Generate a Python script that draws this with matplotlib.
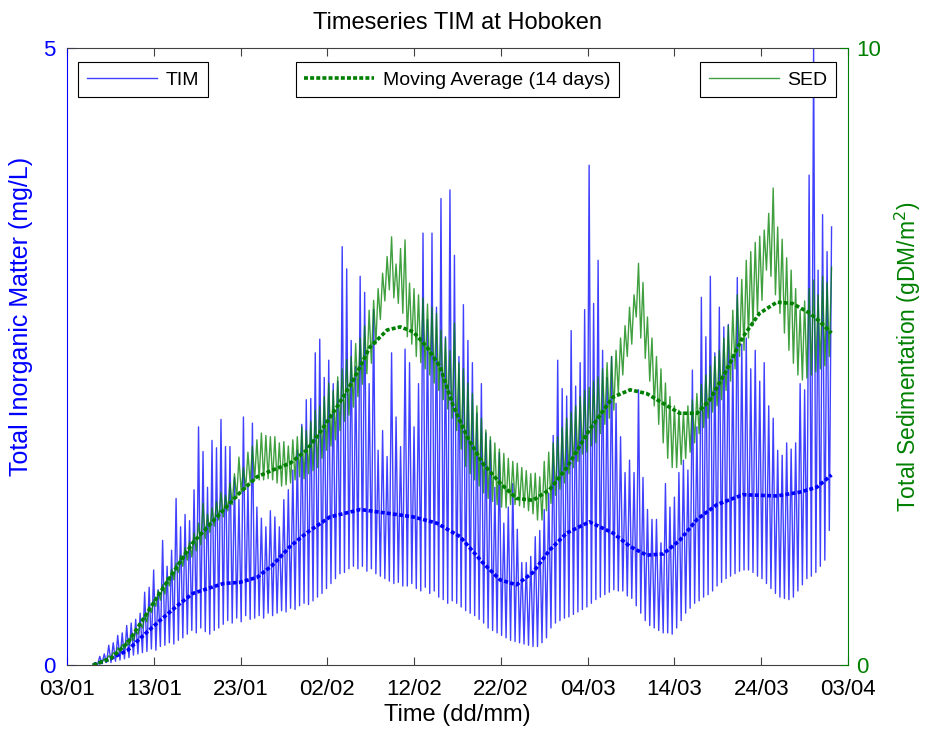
import matplotlib
matplotlib.use('Agg')
import matplotlib.pyplot as plt
import matplotlib.dates as mdates
import pandas as pd

plt.rcParams['font.family'] = ['Liberation Sans', 'DejaVu Sans']

# one value per tide (M2, 12h25)
tide_start = '2013-01-06 00:00'
tide_step = '745min'

tim_peak = [0.02, 0.07, 0.09, 0.16, 0.18, 0.24, 0.26, 0.32, 0.34, 0.37,
            0.42, 0.59, 0.63, 0.77, 0.61, 1.01, 0.8, 0.93, 1.35, 1.12,
            1.22, 1.17, 1.42, 1.93, 1.73, 1.44, 1.82, 1.76, 1.99, 1.77,
            1.77, 1.52, 1.34, 2.01, 1.47, 1.96, 1.28, 1.19, 1.12, 1.25,
            1.2, 1.12, 1.34, 1.42, 1.58, 1.74, 1.95, 2.15, 2.16, 2.53,
            2.64, 2.33, 2.47, 2.28, 2.3, 3.39, 3.21, 2.63, 2.42, 3.15,
            3.02, 2.28, 2.88, 1.74, 1.9, 1.69, 2.53, 2.01, 1.77, 2.56,
            2.45, 1.93, 2.28, 3.5, 2.8, 3.5, 2.9, 3.78, 2.66, 3.85,
            3.32, 2.5, 2.92, 2.63, 2.45, 2.04, 2.28, 1.88, 1.82, 1.44,
            1.72, 1.15, 1.28, 1.47, 1.1, 0.83, 0.83, 0.88, 1.04, 1.09,
            1.26, 1.39, 1.86, 2.47, 2.24, 2.18, 2.71, 2.26, 2.45, 2.88,
            4.05, 2.93, 3.28, 2.55, 2.33, 2.5, 2.12, 1.85, 1.56, 1.66,
            1.56, 2.23, 1.52, 1.26, 1.18, 1.18, 0.99, 1.47, 1.28, 1.36,
            1.56, 1.66, 1.58, 2.39, 1.93, 2.98, 2.66, 3.15, 2.53, 2.9,
            2.74, 2.76, 2.5, 3.14, 2.6, 2.65, 2.4, 2.55, 2.3, 2.45,
            2.1, 2.0, 1.74, 1.7, 1.8, 1.75, 1.8, 2.28, 2.23, 3.97,
            5.0, 3.2, 3.65, 3.35, 3.55]

tim_low = [0.0, 0.0, 0.01, 0.02, 0.02, 0.03, 0.04, 0.05, 0.06, 0.08,
           0.09, 0.1, 0.11, 0.13, 0.12, 0.15, 0.16, 0.18, 0.17, 0.2,
           0.22, 0.25, 0.28, 0.26, 0.3, 0.27, 0.25, 0.28, 0.3, 0.33,
           0.36, 0.34, 0.38, 0.35, 0.4, 0.37, 0.38, 0.4, 0.38, 0.42,
           0.4, 0.42, 0.44, 0.43, 0.46, 0.45, 0.48, 0.5, 0.49, 0.52,
           0.55, 0.58, 0.62, 0.66, 0.7, 0.74, 0.75, 0.78, 0.8, 0.78,
           0.8, 0.76, 0.78, 0.74, 0.72, 0.7, 0.68, 0.66, 0.67, 0.64,
           0.64, 0.66, 0.62, 0.6, 0.63, 0.58, 0.6, 0.55, 0.53, 0.5,
           0.52, 0.5, 0.47, 0.44, 0.42, 0.4, 0.37, 0.34, 0.3, 0.28,
           0.26, 0.24, 0.22, 0.2, 0.19, 0.18, 0.17, 0.16, 0.15, 0.15,
           0.18, 0.22, 0.3, 0.34, 0.36, 0.38, 0.39, 0.41, 0.43, 0.45,
           0.47, 0.5, 0.53, 0.55, 0.57, 0.59, 0.61, 0.6, 0.6, 0.56,
           0.54, 0.48, 0.42, 0.36, 0.32, 0.3, 0.28, 0.26, 0.26, 0.25,
           0.3, 0.36, 0.42, 0.46, 0.5, 0.52, 0.55, 0.57, 0.6, 0.64,
           0.67, 0.7, 0.72, 0.74, 0.76, 0.77, 0.77, 0.75, 0.72, 0.7,
           0.66, 0.62, 0.58, 0.55, 0.54, 0.53, 0.55, 0.6, 0.65, 0.7,
           0.72, 0.75, 0.8, 0.85, 1.09]

sed_high = [0.0, 0.05, 0.1, 0.15, 0.2, 0.28, 0.33, 0.4, 0.47, 0.55,
            0.68, 0.8, 0.95, 1.05, 1.2, 1.3, 1.42, 1.55, 1.65, 1.78,
            1.9, 2.0, 2.14, 2.3, 2.62, 2.45, 2.55, 2.65, 2.8, 2.75,
            2.95, 3.1, 3.37, 3.2, 3.45, 3.55, 3.65, 3.76, 3.72, 3.7,
            3.7, 3.6, 3.62, 3.55, 3.65, 3.7, 3.86, 3.8, 3.95, 4.13,
            4.2, 4.35, 4.57, 4.45, 4.67, 4.8, 4.95, 5.0, 5.21, 5.3,
            5.5, 5.75, 5.91, 6.1, 6.35, 6.62, 6.94, 6.5, 6.75, 6.89,
            6.19, 6.1, 6.0, 5.95, 5.85, 5.8, 5.7, 5.43, 5.3, 5.1,
            5.54, 4.9, 4.8, 4.57, 4.4, 4.2, 4.0, 3.81, 3.7, 3.6,
            3.5, 3.43, 3.35, 3.3, 3.27, 3.2, 3.15, 3.1, 3.11, 3.05,
            3.3, 3.45, 3.6, 3.7, 3.85, 4.0, 4.1, 4.2, 4.35, 4.45,
            4.5, 4.6, 4.67, 4.8, 4.9, 5.0, 5.1, 5.3, 5.5, 5.8,
            6.0, 6.51, 6.2, 5.64, 5.3, 5.0, 4.8, 4.57, 4.35, 4.2,
            4.13, 4.1, 4.2, 4.3, 4.4, 4.55, 4.7, 4.85, 5.0, 5.1,
            5.3, 5.5, 5.75, 6.0, 6.25, 6.56, 6.7, 6.85, 6.95, 7.05,
            7.32, 7.73, 7.1, 6.9, 6.6, 6.4, 6.1, 5.75, 5.9, 6.1,
            6.24, 6.0, 6.3, 6.2, 6.45]

sed_low = [0.0, 0.02, 0.05, 0.08, 0.12, 0.17, 0.22, 0.27, 0.33, 0.4,
           0.5, 0.6, 0.7, 0.85, 0.95, 1.05, 1.15, 1.28, 1.38, 1.5,
           1.6, 1.7, 1.75, 1.85, 1.95, 2.05, 2.15, 2.25, 2.35, 2.4,
           2.5, 2.6, 2.7, 2.8, 2.85, 2.95, 3.0, 3.0, 3.0, 3.02,
           3.0, 2.95, 2.9, 2.92, 2.95, 3.0, 3.05, 3.02, 3.1, 3.15,
           3.2, 3.35, 3.48, 3.55, 3.65, 3.8, 3.95, 4.05, 4.18, 4.35,
           4.55, 4.72, 4.89, 5.2, 5.6, 5.9, 6.08, 5.95, 5.86, 5.7,
           5.32, 5.2, 5.0, 4.9, 4.8, 4.7, 4.57, 4.45, 4.3, 4.15,
           4.0, 3.8, 3.5, 3.22, 3.1, 3.0, 2.9, 2.79, 2.7, 2.65,
           2.6, 2.56, 2.55, 2.6, 2.6, 2.58, 2.55, 2.5, 2.45, 2.35,
           2.35, 2.5, 2.62, 2.75, 2.85, 2.95, 3.1, 3.2, 3.3, 3.42,
           3.45, 3.55, 3.6, 3.75, 3.9, 4.0, 4.13, 4.4, 4.7, 5.0,
           5.2, 5.64, 5.3, 4.97, 4.6, 4.2, 3.9, 3.6, 3.35, 3.2,
           3.2, 3.25, 3.35, 3.45, 3.6, 3.75, 3.85, 4.0, 4.1, 4.2,
           4.3, 4.45, 4.6, 4.8, 5.0, 5.1, 5.3, 5.5, 5.7, 5.91,
           6.4, 6.3, 6.0, 5.7, 5.38, 5.1, 4.89, 4.7, 4.62, 4.65,
           4.7, 4.75, 4.8, 4.85, 5.0]

# 14 day moving averages, days after 03/01
ma_tim_day = [3, 5, 7, 8.8, 10.7, 12.7, 14.5, 18, 19.9, 21.9, 23.7, 25.7, 27.6,
              30.3, 33.8, 36.9, 39.9, 42.6, 45.3, 47.9, 49.9, 51.8, 53.7, 55.6,
              57.6, 60.2, 62.9, 64.9, 66.8, 68.7, 70.6, 72.6, 74.9, 77.9, 81.8,
              84.4, 86.4, 88.1]
ma_tim = [0.0, 0.05, 0.12, 0.24, 0.36, 0.48, 0.58, 0.66, 0.67, 0.71, 0.81, 0.96,
          1.07, 1.2, 1.26, 1.23, 1.2, 1.15, 1.04, 0.83, 0.69, 0.65, 0.75, 0.93,
          1.07, 1.16, 1.07, 0.96, 0.89, 0.9, 1.01, 1.18, 1.3, 1.38, 1.37, 1.4,
          1.44, 1.54]

ma_sed_day = [3, 5, 7, 8.8, 10.7, 12.7, 14.5, 18, 19.9, 21.9, 23.7, 25.7, 27.6,
              29.1, 31.1, 33.0, 34.9, 36.9, 38.4, 39.9, 41.5, 43.0, 44.5, 46.1,
              47.9, 49.9, 51.8, 53.7, 55.6, 57.6, 60.2, 62.9, 64.9, 66.8, 68.7,
              70.6, 72.6, 74.1, 76.0, 77.9, 79.8, 81.8, 83.6, 85.6, 86.8, 88.1]
ma_sed = [0.0, 0.1, 0.36, 0.75, 1.17, 1.6, 1.98, 2.51, 2.79, 3.05, 3.16, 3.27,
          3.48, 3.76, 4.18, 4.62, 5.15, 5.43, 5.48, 5.4, 5.15, 4.83, 4.2, 3.7,
          3.27, 2.95, 2.7, 2.67, 2.84, 3.2, 3.81, 4.34, 4.46, 4.4, 4.24, 4.08,
          4.08, 4.3, 4.78, 5.32, 5.7, 5.88, 5.86, 5.7, 5.56, 5.38]

t0 = pd.Timestamp('2013-01-03')
tides = pd.date_range(tide_start, periods=len(tim_peak), freq=tide_step)
half = pd.Timedelta('372min')

# low, then peak, for every tide
x_tide = []
y_tim = []
y_sed = []
for i, t in enumerate(tides):
    x_tide += [t, t + half]
    y_tim += [tim_low[i], tim_peak[i]]
    y_sed += [sed_low[i], sed_high[i]]

ma_tim_x = t0 + pd.to_timedelta(ma_tim_day, unit='D')
ma_sed_x = t0 + pd.to_timedelta(ma_sed_day, unit='D')

blue = '#0000ff'
green = '#008000'
dash = (0, (1.1, 0.6))

fig = plt.figure(figsize=(9.28, 7.30), dpi=100)
ax = fig.add_axes([67 / 928, 65 / 730, 781 / 928, 617 / 730])
ax2 = ax.twinx()

tim_line, = ax.plot(x_tide, y_tim, color=blue, lw=1.0, alpha=0.75, label='TIM')
ax.plot(ma_tim_x, ma_tim, color=blue, lw=2.6, ls=dash)
sed_line, = ax2.plot(x_tide, y_sed, color=green, lw=1.0, alpha=0.75, label='SED')
ma_line, = ax2.plot(ma_sed_x, ma_sed, color=green, lw=2.6, ls=dash,
                    label='Moving Average (14 days)')

ax.set_xlim(t0, pd.Timestamp('2013-04-03'))
ax.set_ylim(0, 5)
ax2.set_ylim(0, 10)
ax.set_xticks(pd.date_range('2013-01-03', '2013-04-03', freq='10D'))
ax.xaxis.set_major_formatter(mdates.DateFormatter('%d/%m'))
ax.set_yticks([0, 5])
ax2.set_yticks([0, 10])

ax.tick_params(axis='x', direction='in', length=6, top=True, labelsize=16,
               pad=10, color='#404040')
ax.tick_params(axis='y', direction='in', length=6, colors=blue, labelsize=16, pad=8)
ax2.tick_params(axis='y', direction='in', length=6, colors=green, labelsize=16, pad=6)

for s in ['top', 'bottom']:
    ax.spines[s].set_color('#404040')
ax.spines['left'].set_color(blue)
ax.spines['right'].set_visible(False)
ax2.spines['left'].set_visible(False)
ax2.spines['top'].set_visible(False)
ax2.spines['bottom'].set_visible(False)
ax2.spines['right'].set_color(green)

ax.set_title('Timeseries TIM at Hoboken', fontsize=17, pad=14)
ax.set_xlabel('Time (dd/mm)', fontsize=17, labelpad=3)
ax.set_ylabel('Total Inorganic Matter (mg/L)', color=blue, fontsize=18)
ax.yaxis.set_label_coords(-0.043, 0.565)
ax2.set_ylabel('Total Sedimentation (gDM/m$^2$)', color=green, fontsize=16.5)
ax2.yaxis.set_label_coords(1.058, 0.5)

leg_kw = dict(fontsize=14, handlelength=3.6, handletextpad=0.45, borderpad=0.45,
              fancybox=False, framealpha=1, edgecolor='black', borderaxespad=0)
leg1 = ax2.legend(handles=[tim_line], loc='upper left',
                  bbox_to_anchor=(0.014, 0.977), **leg_kw)
leg1.get_frame().set_linewidth(0.8)
ax2.add_artist(leg1)
leg2 = ax2.legend(handles=[ma_line], loc='upper center',
                  bbox_to_anchor=(0.5, 0.977), **leg_kw)
leg2.get_frame().set_linewidth(0.8)
ax2.add_artist(leg2)
leg3 = ax2.legend(handles=[sed_line], loc='upper right',
                  bbox_to_anchor=(0.985, 0.977), **leg_kw)
leg3.get_frame().set_linewidth(0.8)

fig.savefig('out.png', dpi=100)
